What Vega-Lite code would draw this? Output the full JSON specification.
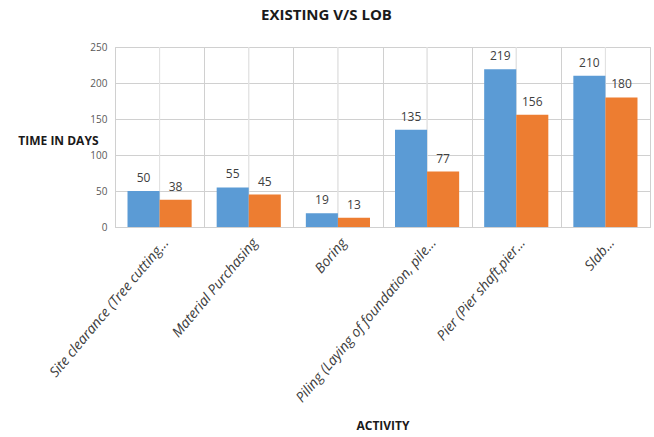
{
  "$schema": "https://vega.github.io/schema/vega-lite/v6.json",
  "width": 535,
  "height": 180,
  "autosize": "none",
  "padding": {"left": 115, "top": 47, "right": 4, "bottom": 210},
  "background": "white",
  "title": {
    "text": "EXISTING V/S LOB",
    "font": "Open Sans, sans-serif",
    "fontSize": 15,
    "fontWeight": "bold",
    "color": "#1a1a1a",
    "anchor": "middle",
    "dx": -56,
    "offset": 19
  },
  "config": {
    "view": {"stroke": "#D0D0D0"},
    "font": "Open Sans, sans-serif"
  },
  "data": {
    "values": [
      {"activity": "Site clearance (Tree cutting...", "series": "Existing", "days": 50},
      {"activity": "Site clearance (Tree cutting...", "series": "LOB", "days": 38},
      {"activity": "Material Purchasing", "series": "Existing", "days": 55},
      {"activity": "Material Purchasing", "series": "LOB", "days": 45},
      {"activity": "Boring", "series": "Existing", "days": 19},
      {"activity": "Boring", "series": "LOB", "days": 13},
      {"activity": "Piling (Laying of foundation, pile...", "series": "Existing", "days": 135},
      {"activity": "Piling (Laying of foundation, pile...", "series": "LOB", "days": 77},
      {"activity": "Pier (Pier shaft,pier...", "series": "Existing", "days": 219},
      {"activity": "Pier (Pier shaft,pier...", "series": "LOB", "days": 156},
      {"activity": "Slab...", "series": "Existing", "days": 210},
      {"activity": "Slab...", "series": "LOB", "days": 180}
    ]
  },
  "encoding": {
    "x": {
      "field": "activity",
      "type": "nominal",
      "sort": null,
      "scale": {"paddingInner": 0, "paddingOuter": 0},
      "axis": {
        "title": "ACTIVITY",
        "titleFontSize": 12,
        "titleFontWeight": "bold",
        "titleColor": "#1a1a1a",
        "titleY": 193,
        "titleBaseline": "top",
        "labelAngle": -50,
        "labelAlign": "right",
        "labelBaseline": "middle",
        "labelPadding": 13,
        "labelOffset": 6,
        "labelFontStyle": "italic",
        "labelFontSize": 14,
        "labelColor": "#404040",
        "labelLimit": 300,
        "labelOverlap": false,
        "ticks": false,
        "domain": true,
        "domainColor": "#D0D0D0",
        "grid": true,
        "gridColor": "#D0D0D0",
        "tickBand": "extent"
      }
    },
    "y": {
      "field": "days",
      "type": "quantitative",
      "scale": {"domain": [0, 250]},
      "axis": {
        "title": "TIME IN DAYS",
        "titleAngle": 0,
        "titleAlign": "right",
        "titleBaseline": "middle",
        "titleX": -17,
        "titleY": 93,
        "titleFontSize": 12,
        "titleFontWeight": "bold",
        "titleColor": "#1a1a1a",
        "values": [0, 50, 100, 150, 200, 250],
        "labelOverlap": false,
        "labelFontSize": 10,
        "labelColor": "#595959",
        "labelPadding": 8,
        "ticks": false,
        "domain": false,
        "grid": true,
        "gridColor": "#D0D0D0"
      }
    }
  },
  "layer": [
    {
      "mark": {"type": "rule", "color": "#E2E2E2", "strokeWidth": 1},
      "encoding": {"y": {"value": 0}, "y2": {"value": 180}}
    },
    {
      "mark": {"type": "bar"},
      "encoding": {
        "xOffset": {"field": "series", "type": "nominal", "scale": {"paddingInner": 0, "paddingOuter": 0.39}},
        "color": {
          "field": "series",
          "type": "nominal",
          "scale": {"domain": ["Existing", "LOB"], "range": ["#5B9BD5", "#ED7D31"]},
          "legend": null
        }
      }
    },
    {
      "mark": {"type": "text", "dy": -13, "fontSize": 12, "color": "#404040"},
      "encoding": {
        "xOffset": {"field": "series", "type": "nominal"},
        "text": {"field": "days", "type": "quantitative"}
      }
    }
  ]
}
